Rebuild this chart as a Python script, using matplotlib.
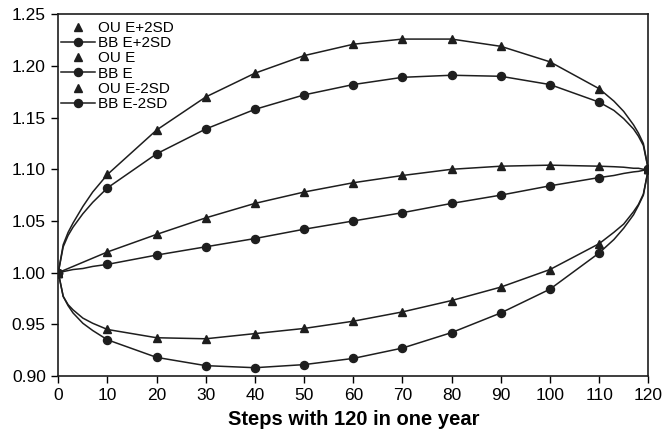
import numpy as np
import matplotlib.pyplot as plt

plt.rcParams['font.family'] = ['Liberation Sans', 'DejaVu Sans']

# steps (markers every 10, extra points near the ends for the curve shape)
steps = [0, 1, 2, 3, 5, 7, 10, 20, 30, 40, 50, 60, 70, 80, 90, 100, 110,
         113, 115, 117, 118, 119, 120]

ou_up = [1.000, 1.027, 1.039, 1.048, 1.064, 1.078, 1.095, 1.138, 1.170, 1.193, 1.210, 1.221,
         1.226, 1.226, 1.219, 1.204, 1.178, 1.166, 1.156, 1.143, 1.135, 1.125, 1.100]
bb_up = [1.000, 1.025, 1.036, 1.044, 1.057, 1.068, 1.082, 1.115, 1.139, 1.158, 1.172, 1.182,
         1.189, 1.191, 1.190, 1.182, 1.165, 1.157, 1.149, 1.139, 1.132, 1.123, 1.100]
ou_mid = [1.000, 1.002, 1.004, 1.006, 1.010, 1.014, 1.020, 1.037, 1.053, 1.067, 1.078, 1.087,
          1.094, 1.100, 1.103, 1.104, 1.103, 1.1025, 1.102, 1.101, 1.101, 1.100, 1.100]
bb_mid = [1.000, 1.001, 1.002, 1.003, 1.004, 1.006, 1.008, 1.017, 1.025, 1.033, 1.042, 1.050,
          1.058, 1.067, 1.075, 1.084, 1.092, 1.094, 1.096, 1.0975, 1.098, 1.099, 1.100]
ou_low = [1.000, 0.977, 0.969, 0.964, 0.956, 0.951, 0.945, 0.937, 0.936, 0.941, 0.946, 0.953,
          0.962, 0.973, 0.986, 1.003, 1.028, 1.039, 1.047, 1.059, 1.066, 1.076, 1.100]
bb_low = [1.000, 0.977, 0.968, 0.961, 0.951, 0.944, 0.935, 0.918, 0.910, 0.908, 0.911, 0.917,
          0.927, 0.942, 0.961, 0.984, 1.019, 1.032, 1.043, 1.056, 1.065, 1.075, 1.100]

labels = ['OU E+2SD', 'BB E+2SD', 'OU E', 'BB E', 'OU E-2SD', 'BB E-2SD']
series = [ou_up, bb_up, ou_mid, bb_mid, ou_low, bb_low]

col = '#1e1e1e'
x = np.array(steps)
mark = (x % 10 == 0)

fig = plt.figure(figsize=(6.63, 4.38), dpi=100)
ax = fig.add_axes([0.0879, 0.1416, 0.8899, 0.8258])

for lab, y in zip(labels, series):
    y = np.array(y)
    if lab.startswith('OU'):
        ax.plot(x, y, color=col, lw=1.1, label='_nolegend_')
        ax.plot(x[mark], y[mark], ls='none', marker='^', ms=5.8, color=col, label=lab)
    else:
        ax.plot(x, y, color=col, lw=1.1, marker='o', ms=5.8, markevery=list(mark), label=lab)

ax.set_xlim(0, 120)
ax.set_ylim(0.90, 1.25)
ax.set_xticks(range(0, 121, 10))
ax.set_yticks(np.arange(0.90, 1.2501, 0.05))
ax.set_yticklabels([f'{v:.2f}' for v in np.arange(0.90, 1.2501, 0.05)])
ax.tick_params(direction='out', length=5, width=1.0, labelsize=12.5, colors='black', pad=4)
for s in ax.spines.values():
    s.set_linewidth(1.2)
    s.set_color(col)

ax.set_xlabel('Steps with 120 in one year', fontsize=14.5, fontweight='bold', labelpad=5)

ax.legend(loc='upper left', bbox_to_anchor=(-0.003, 0.994), frameon=False, fontsize=11,
          labelspacing=0.08, handlelength=2.2, handletextpad=0.2, borderpad=0.3,
          borderaxespad=0.0)

fig.savefig('out.png', dpi=100)
